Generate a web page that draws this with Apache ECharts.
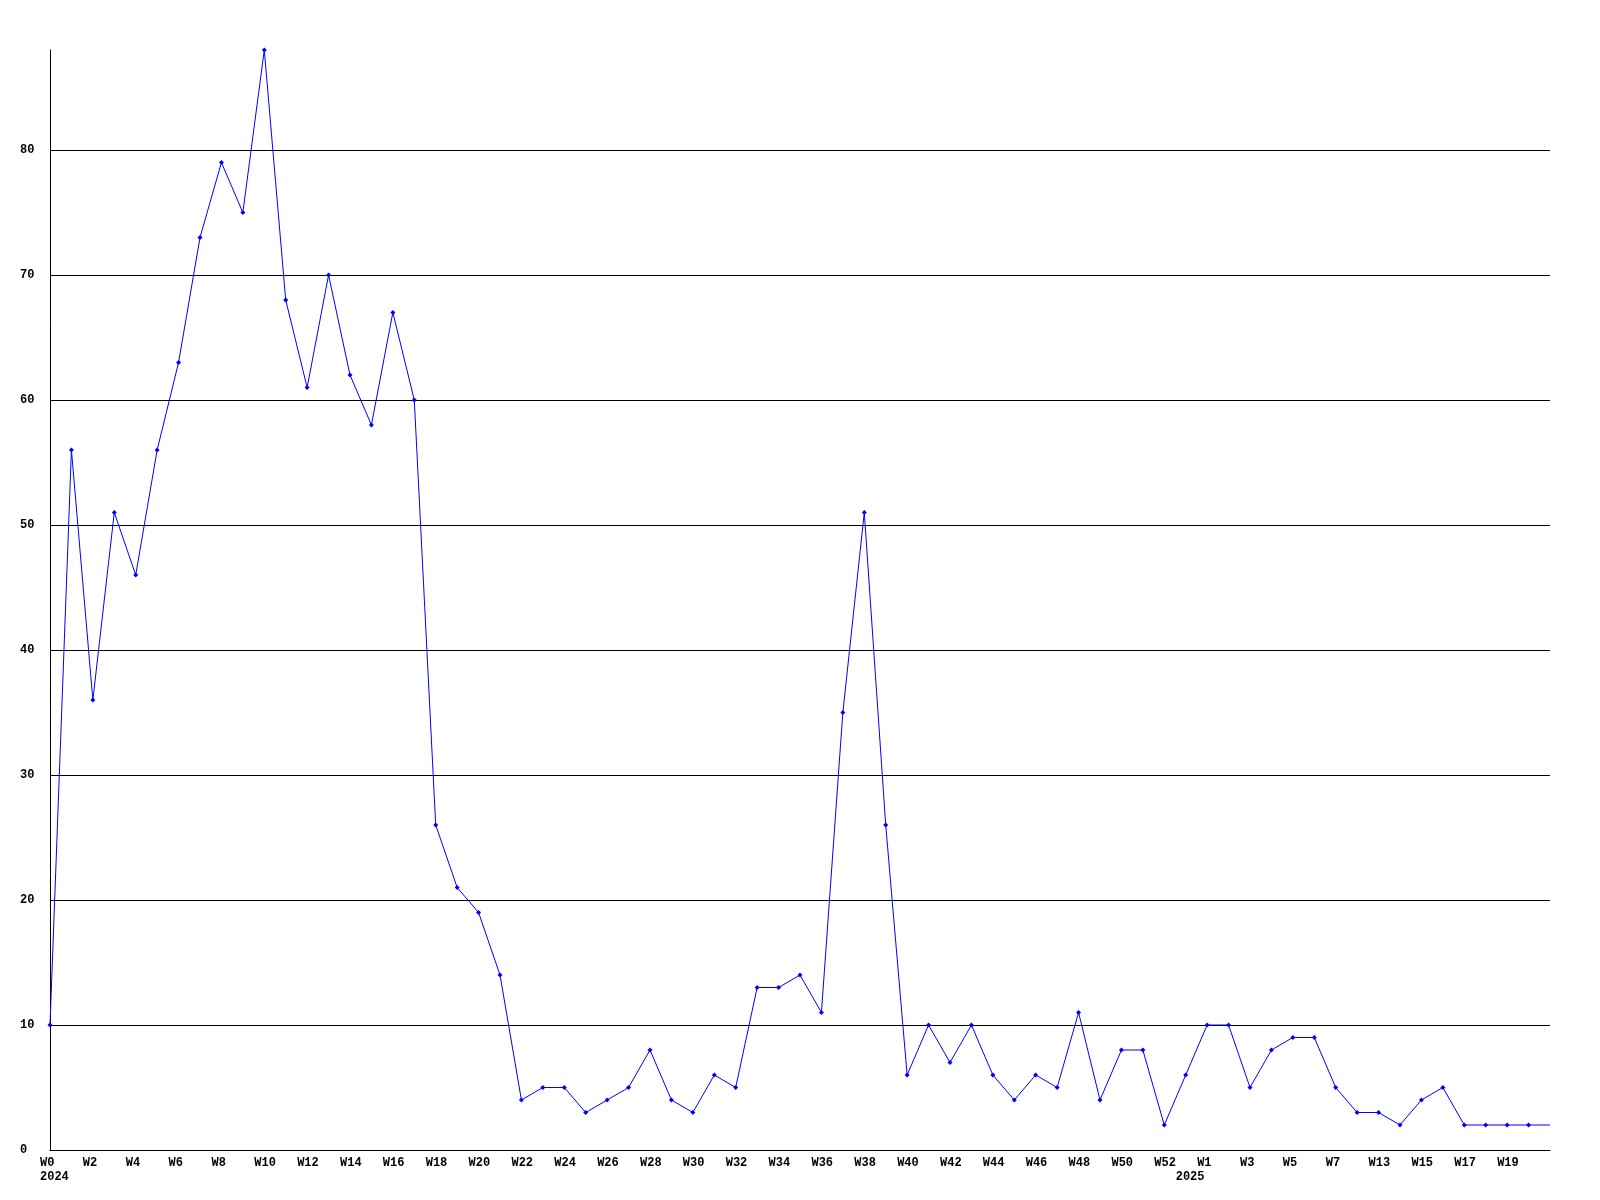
<!DOCTYPE html>
<html>
<head>
<meta charset="utf-8">
<script src="https://cdn.jsdelivr.net/npm/echarts@6/dist/echarts.min.js"></script>
<style>html,body{margin:0;padding:0;background:#fff;}#c{width:1600px;height:1200px;}</style>
</head>
<body>
<div id="c"></div>
<script>
// Week categories (2024: W0..W52, 2025: W0..W7, gap, W13..W21)
var weeks = ['W0','W1','W2','W3','W4','W5','W6','W7','W8','W9','W10','W11','W12','W13','W14','W15','W16','W17','W18','W19','W20',
  'W21','W22','W23','W24','W25','W26','W27','W28','W29','W30','W31','W32','W33','W34','W35','W36','W37','W38','W39','W40',
  'W41','W42','W43','W44','W45','W46','W47','W48','W49','W50','W51','W52',
  'W0','W1','W2','W3','W4','W5','W6','W7','W12','W13','W14','W15','W16','W17','W18','W19','W20','W21'];
// Year shown under the first week of each year
var years = {0: '2024', 53: '2025'};
var values = [10,56,36,51,46,56,63,73,79,75,88,68,61,70,62,58,67,60,26,21,19,
  14,4,5,5,3,4,5,8,4,3,6,5,13,13,14,11,35,51,26,6,
  10,7,10,6,4,6,5,11,4,8,8,2,
  6,10,10,5,8,9,9,5,3,3,2,4,5,2,2,2,2,2];
var yTicks = [0,10,20,30,40,50,60,70,80];

var chart = echarts.init(document.getElementById('c'));
var lastIdx = weeks.length - 1;
chart.setOption({
  animation: false,
  backgroundColor: '#ffffff',
  grid: {left: 50, right: 50, top: 50, bottom: 50, containLabel: false},
  xAxis: {
    type: 'category',
    data: weeks,
    boundaryGap: false,
    axisLine: {show: true, lineStyle: {color: '#000', width: 1}},
    axisTick: {show: false},
    splitLine: {show: false},
    axisLabel: {
      margin: 6,
      interval: function (i) { return (i % 2 === 0 && i < lastIdx) || years[i] !== undefined; },
      formatter: function (v, i) {
        var top = (i % 2 === 0 && i < lastIdx) ? v : ' ';
        var s = '{a|' + top + '}';
        if (years[i] !== undefined) s += '\n{a|' + years[i] + '}';
        return s;
      },
      align: 'center',
      rich: {a: {width: 20, align: 'left', fontFamily: 'Liberation Mono', fontWeight: 'bold', fontSize: 12, lineHeight: 14, color: '#000'}}
    }
  },
  yAxis: {
    type: 'value',
    min: 0,
    max: 88,
    interval: 10,
    axisLine: {show: true, lineStyle: {color: '#000', width: 1}},
    axisTick: {show: false},
    splitLine: {show: true, showMaxLine: false, lineStyle: {color: '#000', width: 1}},
    axisLabel: {
      showMaxLabel: false,
      align: 'left',
      margin: 30,
      color: '#000',
      fontFamily: 'Liberation Mono',
      fontWeight: 'bold',
      fontSize: 12,
      formatter: function (v) { return yTicks.indexOf(v) >= 0 ? String(v) : ''; }
    }
  },
  series: [{
    type: 'line',
    data: values,
    symbol: function (v, p) { return p.dataIndex === lastIdx ? 'none' : 'diamond'; },
    symbolSize: 5,
    showAllSymbol: true,
    lineStyle: {color: '#0000ff', width: 1},
    itemStyle: {color: '#0000ff'},
    clip: false
  }]
});
</script>
</body>
</html>
